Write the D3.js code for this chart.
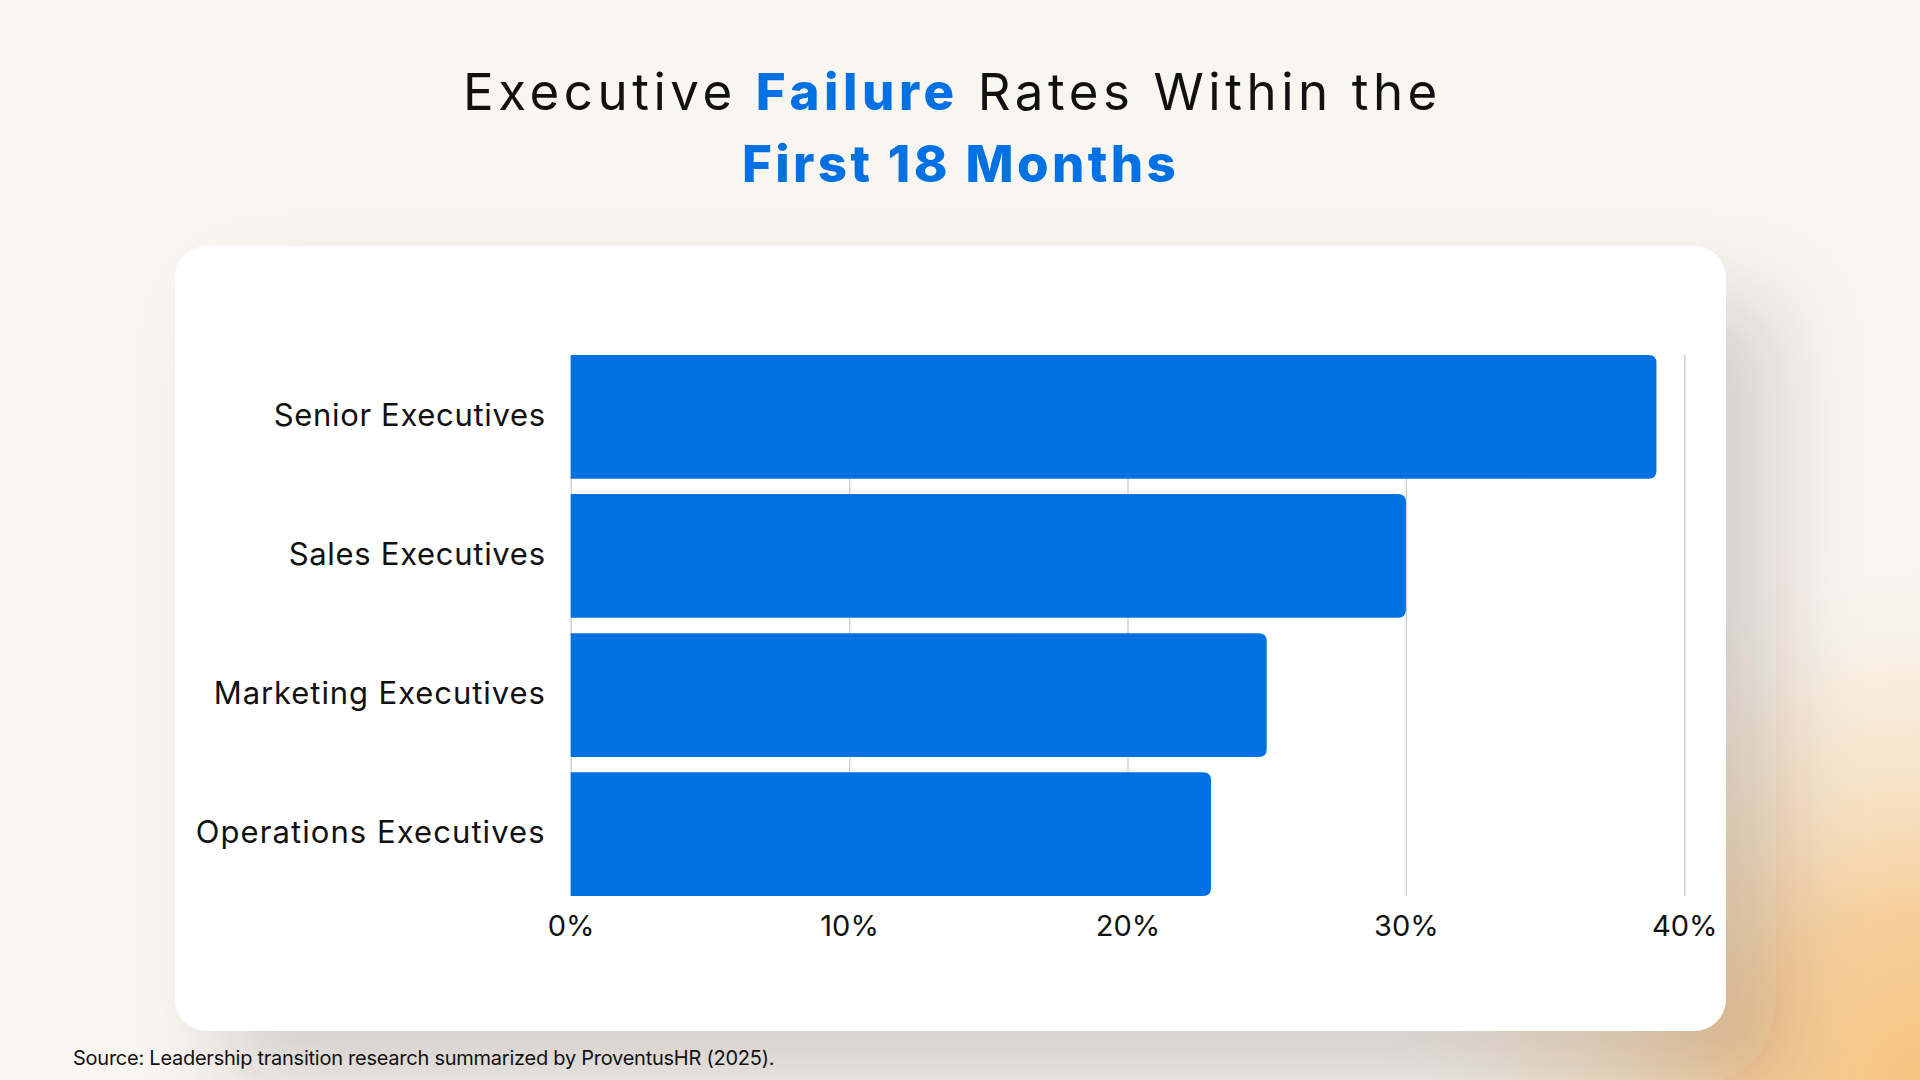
<!DOCTYPE html>
<html>
<head>
<meta charset="utf-8">
<script src="https://cdn.jsdelivr.net/npm/d3@7"></script>
<style>
  html, body { margin: 0; padding: 0; background: #f9f6f1; }
  svg { display: block; }
</style>
</head>
<body>
<svg id="chart" width="1920" height="1080"></svg>
<script>
// ---- data ----
const categories = ["Senior Executives", "Sales Executives", "Marketing Executives", "Operations Executives"];
const failureRates = [39, 30, 25, 23];
const xTickValues = [0, 10, 20, 30, 40];
const xTickLabels = ["0%", "10%", "20%", "30%", "40%"];
const titleLine1 = [
  { text: "Executive ", strong: false },
  { text: "Failure", strong: true },
  { text: " Rates Within the", strong: false }
];
const titleLine2 = "First 18 Months";
const sourceText = "Source: Leadership transition research summarized by ProventusHR (2025).";

// ---- style ----
const W = 1920, H = 1080;
const FONT = "Inter, 'Open Sans', sans-serif";
const BLUE = "#0071e3";
const INK = "#111111";

const svg = d3.select("#chart");
const defs = svg.append("defs");

// background
svg.append("rect").attr("width", W).attr("height", H).attr("fill", "#f9f6f1");

const glow = defs.append("radialGradient").attr("id", "glow")
  .attr("gradientUnits", "userSpaceOnUse")
  .attr("cx", 1940).attr("cy", 1100).attr("r", 580);
glow.append("stop").attr("offset", 0).attr("stop-color", "#f6c27a").attr("stop-opacity", 1);
glow.append("stop").attr("offset", 0.35).attr("stop-color", "#f6c990").attr("stop-opacity", 0.85);
glow.append("stop").attr("offset", 0.7).attr("stop-color", "#f5dcb8").attr("stop-opacity", 0.4);
glow.append("stop").attr("offset", 1).attr("stop-color", "#f9f6f1").attr("stop-opacity", 0);
svg.append("rect").attr("width", W).attr("height", H).attr("fill", "url(#glow)");

// card shadow filter
const f = defs.append("filter").attr("id", "shadow")
  .attr("x", -0.2).attr("y", -0.4).attr("width", 1.5).attr("height", 1.8);
f.append("feDropShadow").attr("dx", 50).attr("dy", 55).attr("stdDeviation", 42)
  .attr("flood-color", "#3a2a1a").attr("flood-opacity", 0.19);

const card = { x: 175, y: 246, w: 1551, h: 785, r: 32 };
svg.append("rect")
  .attr("x", card.x).attr("y", card.y).attr("width", card.w).attr("height", card.h)
  .attr("rx", card.r).attr("ry", card.r)
  .attr("fill", "#ffffff").attr("filter", "url(#shadow)");

// ---- scales ----
const plot = { left: 570.7, right: 1684.3, top: 355, bottom: 896 };
const x = d3.scaleLinear().domain([0, 40]).range([plot.left, plot.right]);
const y = d3.scaleBand().domain(categories).range([plot.top, plot.bottom])
  .paddingInner(0.11).paddingOuter(0);

// gridlines
const grid = svg.append("g").attr("transform", `translate(0,${plot.bottom})`)
  .call(d3.axisBottom(x).tickValues(xTickValues).tickSize(-(plot.bottom - plot.top)).tickFormat(""));
grid.select(".domain").remove();
grid.selectAll(".tick line").attr("stroke", "#cbcbcb").attr("stroke-width", 1.3);

// bars with rounded right corners
const rr = 8;
function barPath(d, i) {
  const x0 = x(0), x1 = x(failureRates[i]);
  const y0 = y(d), h = y.bandwidth();
  return `M${x0},${y0} H${x1 - rr} Q${x1},${y0} ${x1},${y0 + rr} V${y0 + h - rr} Q${x1},${y0 + h} ${x1 - rr},${y0 + h} H${x0} Z`;
}
svg.append("g").selectAll("path").data(categories).join("path")
  .attr("d", barPath).attr("fill", BLUE);

// x axis labels
const xAxis = svg.append("g").attr("transform", `translate(0,${plot.bottom})`)
  .call(d3.axisBottom(x).tickValues(xTickValues).tickSize(0).tickPadding(0)
    .tickFormat((d, i) => xTickLabels[i]));
xAxis.select(".domain").remove();
xAxis.selectAll("text")
  .attr("y", 40).attr("dy", 0)
  .attr("fill", INK).attr("font-family", FONT).attr("font-size", 29).attr("font-weight", 400);

// y axis labels
const yAxis = svg.append("g").attr("transform", `translate(${plot.left},0)`)
  .call(d3.axisLeft(y).tickSize(0).tickPadding(25));
yAxis.select(".domain").remove();
yAxis.selectAll("text")
  .attr("dy", "0.3em")
  .attr("fill", INK).attr("font-family", FONT).attr("font-size", 31).attr("font-weight", 400);

const labelTargets = { "Senior Executives": 272, "Sales Executives": 257, "Marketing Executives": 332, "Operations Executives": 350 };
yAxis.selectAll("text").each(function (d) {
  fitSpacing(d3.select(this), labelTargets[d]);
});

function fitSpacing(sel, target) {
  const node = sel.node();
  const n = node.getNumberOfChars();
  const w = node.getComputedTextLength();
  sel.attr("letter-spacing", ((target - w) / n).toFixed(2));
}

// title
const t1 = svg.append("text").attr("x", 463).attr("y", 110)
  .attr("font-family", FONT).attr("font-size", 51).attr("fill", INK);
t1.selectAll("tspan").data(titleLine1).join("tspan")
  .text(d => d.text)
  .attr("font-weight", d => d.strong ? 800 : 400)
  .attr("fill", d => d.strong ? BLUE : INK);
fitSpacing(t1, 979);

const t2 = svg.append("text").attr("x", 742).attr("y", 182)
  .attr("font-family", FONT).attr("font-size", 51).attr("font-weight", 800).attr("fill", BLUE)
  .text(titleLine2);
fitSpacing(t2, 437);

// source
const src = svg.append("text").attr("x", 73).attr("y", 1065)
  .attr("font-family", FONT).attr("font-size", 20).attr("fill", INK)
  .text(sourceText);
fitSpacing(src, 701);
</script>
</body>
</html>
